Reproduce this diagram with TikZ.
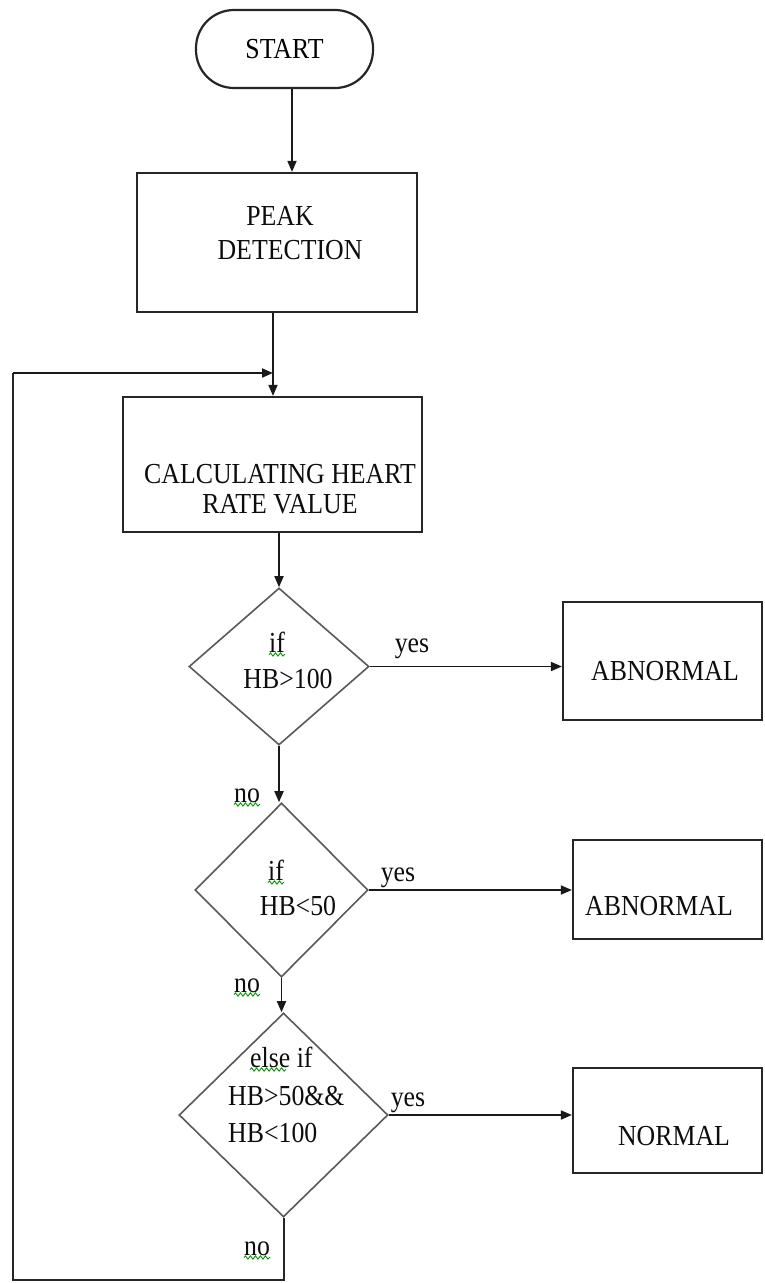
\documentclass[tikz,border=0pt]{standalone}
\usepackage{fontspec}
\setmainfont{Liberation Serif}[FakeStretch=0.89]
\usetikzlibrary{shapes.geometric,arrows.meta,decorations.pathmorphing}
\begin{document}
\begin{tikzpicture}[x=1pt,y=-1pt,
  box/.style={draw=black!85, line width=2.2pt, inner sep=0pt},
  dia/.style={draw=black!65, line width=1.6pt, diamond, inner sep=0pt},
  arr/.style={-{Triangle[length=11pt,width=9pt]}, line width=1.7pt, draw=black!90},
  loopline/.style={line width=2pt, draw=black!85},
  lbl/.style={inner sep=0pt, anchor=base, font=\fontsize{29}{35}\selectfont, text=black!95},
  lbll/.style={lbl, anchor=base west},
  squig/.style={draw=green!60!black, line width=0.9pt, decorate, decoration={snake, segment length=5pt, amplitude=1.6pt}}]
\fill[white] (0,0) rectangle (764,1283);
\useasboundingbox (0,0) rectangle (764,1283);

% shapes
\node[box, rounded corners=38pt, minimum width=177pt, minimum height=78pt,
      font=\fontsize{29}{35}\selectfont] (start) at (284.5,49) {START};
\node[box, minimum width=280pt, minimum height=139pt] (peak) at (277,242.5) {};
\node[box, minimum width=299pt, minimum height=135pt] (calc) at (272.5,464.5) {};
\node[dia, minimum width=180pt, minimum height=157pt] (d1) at (279,666.5) {};
\node[dia, minimum width=173pt, minimum height=174pt] (d2) at (281.5,890) {};
\node[dia, minimum width=209pt, minimum height=204pt] (d3) at (283.5,1115) {};
\node[box, minimum width=199pt, minimum height=118pt] (abn1) at (662.5,661) {};
\node[box, minimum width=189pt, minimum height=99pt] (abn2) at (667.5,889.5) {};
\node[box, minimum width=189pt, minimum height=105pt] (norm) at (667.5,1120.5) {};

% texts
\node[lbl] (peakA) at (280,225) {PEAK};
\node[lbl] (peakB) at (290,259) {DETECTION};
\node[lbl] (calcA) at (280,483) {CALCULATING HEART};
\node[lbl] (calcB) at (280,513) {RATE VALUE};
\node[lbl] (d1a) at (277,652) {if};
\node[lbl] (d1b) at (288,688) {HB>100};
\node[lbl] (d2a) at (276,880) {if};
\node[lbl] (d2b) at (298,915) {HB<50};
\node[lbll] (d3a) at (250,1067) {else if};
\node[lbll] (d3b) at (228,1105) {HB>50\&\&};
\node[lbll] (d3c) at (228,1142) {HB<100};
\node[lbl] (abn1t) at (665,680) {ABNORMAL};
\node[lbl] (abn2t) at (659,915) {ABNORMAL};
\node[lbl] (normt) at (674,1145) {NORMAL};
\node[lbl] (yes1) at (412,652) {yes};
\node[lbl] (yes2) at (398,881) {yes};
\node[lbl] (yes3) at (408,1106) {yes};
\node[lbl] (no1) at (247,802) {no};
\node[lbl] (no2) at (247,992) {no};
\node[lbl] (no3) at (257,1255) {no};

% spell-check squiggles
\draw[squig] ([yshift=-2.5pt]d1a.base west) -- ([yshift=-2.5pt]d1a.base east);
\draw[squig] ([yshift=-2.5pt]d2a.base west) -- ([yshift=-2.5pt]d2a.base east);
\draw[squig] ([yshift=-2.5pt]d3a.base west) -- ([yshift=-2.5pt,xshift=36pt]d3a.base west);
\draw[squig] ([yshift=-2.5pt]no1.base west) -- ([yshift=-2.5pt]no1.base east);
\draw[squig] ([yshift=-2.5pt]no2.base west) -- ([yshift=-2.5pt]no2.base east);
\draw[squig] ([yshift=-2.5pt]no3.base west) -- ([yshift=-2.5pt]no3.base east);

% connectors
\draw[arr] ([xshift=7.5pt]start.south) -- ([xshift=7.5pt]start.south |- peak.north);
\draw[arr] ([xshift=-4pt]peak.south) -- ([xshift=-4pt]peak.south |- calc.north);
\draw[arr] (calc.south -| d1.north) -- (d1.north);
\draw[arr] (d1.south) -- (d1.south |- d2.north);
\draw[arr] (d2.south) -- (d2.south |- d3.north);
\draw[arr] (d1.east) -- (d1.east -| abn1.west);
\draw[arr] (d2.east) -- (d2.east -| abn2.west);
\draw[arr] (d3.east) -- (d3.east -| norm.west);

\coordinate (lb) at (13,1280);
\coordinate (lt) at (13,373);
\coordinate (loopin) at (273,373);
\draw[loopline] (d3.south) |- (lb) -- (lt);
\draw[arr, line width=2pt] (lt) -- (loopin);
\end{tikzpicture}
\end{document}
